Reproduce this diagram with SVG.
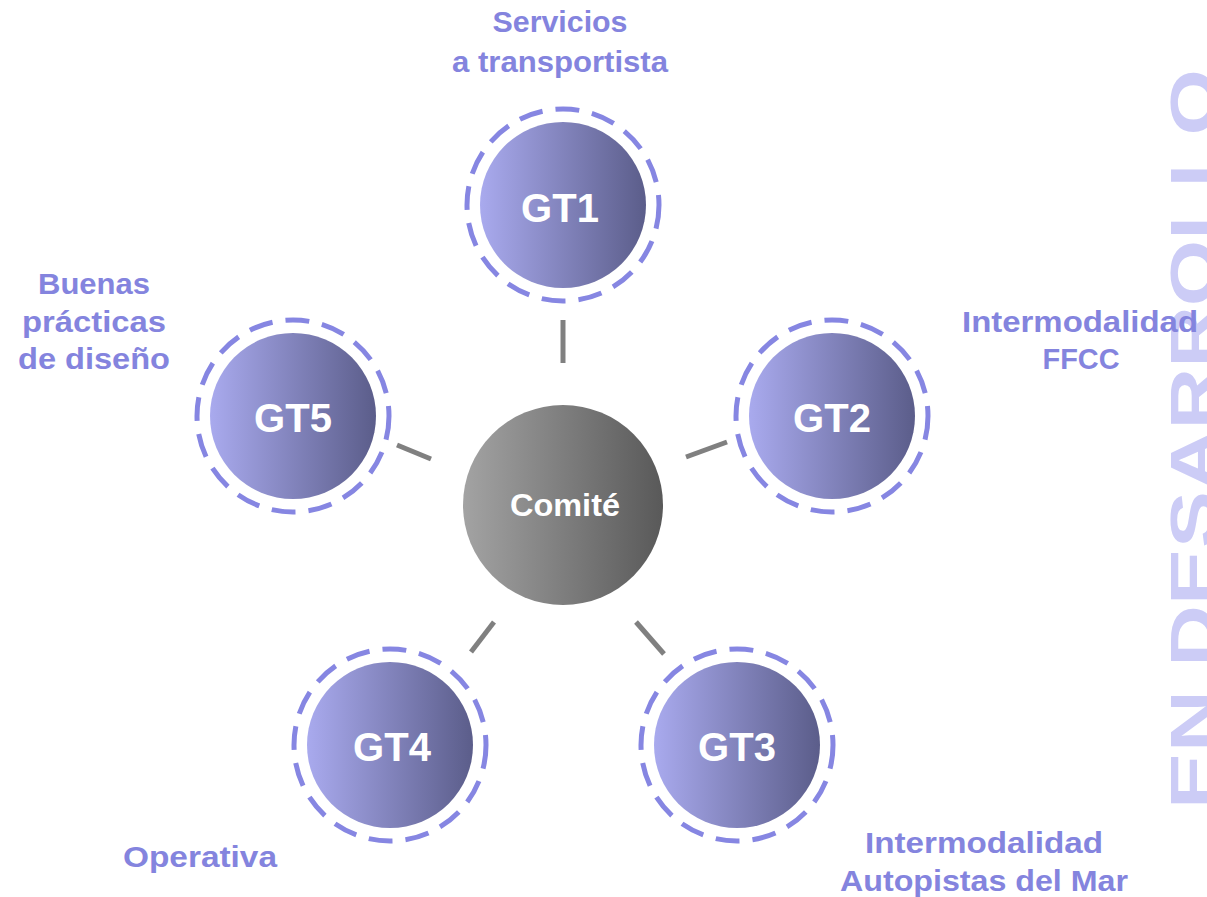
<svg xmlns="http://www.w3.org/2000/svg" width="1207" height="897" viewBox="0 0 1207 897">
<defs>
<linearGradient id="gp" x1="0" y1="0" x2="1" y2="0">
<stop offset="0" stop-color="#a9aaee"/>
<stop offset="1" stop-color="#5b5d8a"/>
</linearGradient>
<linearGradient id="gg" x1="0" y1="0" x2="1" y2="0">
<stop offset="0" stop-color="#a3a3a3"/>
<stop offset="1" stop-color="#595959"/>
</linearGradient>
</defs>
<style>
.ring{fill:none;stroke:#8686e2;stroke-width:5;stroke-dasharray:24 13}
.core{fill:url(#gp)}
.gt{font-family:"Liberation Sans",Arial,sans-serif;font-weight:bold;font-size:40px;fill:#ffffff;text-anchor:middle}
.lbl{font-family:"Liberation Sans",Arial,sans-serif;font-weight:bold;font-size:29px;fill:#8484de;text-anchor:middle}
.con{stroke:#808080;stroke-width:5;fill:none}
.wm{font-family:"Liberation Sans",Arial,sans-serif;font-weight:bold;font-size:64px;fill:#ccccf6;text-anchor:middle}
</style>
<text class="wm" transform="translate(1216,439) rotate(-90)" x="0" y="0" textLength="740" lengthAdjust="spacingAndGlyphs">EN DESARROLLO</text>
<g id="connectors">
<line class="con" x1="563" y1="320" x2="563" y2="363"/>
<line class="con" x1="686" y1="457" x2="727" y2="442"/>
<line class="con" x1="397" y1="445" x2="431" y2="459"/>
<line class="con" x1="471" y1="652" x2="494" y2="622"/>
<line class="con" x1="636" y1="622" x2="664" y2="654"/>
</g>
<g id="comite">
<circle cx="563" cy="505" r="100" fill="url(#gg)"/>
<text class="gt" x="565" y="516" style="font-size:31px" textLength="110" lengthAdjust="spacingAndGlyphs">Comité</text>
</g>
<g id="gt1">
<circle class="core" cx="563" cy="205" r="83"/>
<circle class="ring" cx="563" cy="205" r="96"/>
<text class="gt" x="560" y="222">GT1</text>
<text class="lbl" x="560" y="32" textLength="135" lengthAdjust="spacingAndGlyphs">Servicios</text>
<text class="lbl" x="560" y="72" textLength="216" lengthAdjust="spacingAndGlyphs">a transportista</text>
</g>
<g id="gt2">
<circle class="core" cx="832" cy="416" r="83"/>
<circle class="ring" cx="832" cy="416" r="96"/>
<text class="gt" x="832" y="432">GT2</text>
<text class="lbl" x="1080" y="332" textLength="236" lengthAdjust="spacingAndGlyphs">Intermodalidad</text>
<text class="lbl" x="1081" y="369" textLength="77" lengthAdjust="spacingAndGlyphs">FFCC</text>
</g>
<g id="gt3">
<circle class="core" cx="737" cy="745" r="83"/>
<circle class="ring" cx="737" cy="745" r="96"/>
<text class="gt" x="737" y="761">GT3</text>
<text class="lbl" x="984" y="853" textLength="238" lengthAdjust="spacingAndGlyphs">Intermodalidad</text>
<text class="lbl" x="984" y="891" textLength="288" lengthAdjust="spacingAndGlyphs">Autopistas del Mar</text>
</g>
<g id="gt4">
<circle class="core" cx="390" cy="745" r="83"/>
<circle class="ring" cx="390" cy="745" r="96"/>
<text class="gt" x="392" y="761">GT4</text>
<text class="lbl" x="200" y="867" textLength="154" lengthAdjust="spacingAndGlyphs">Operativa</text>
</g>
<g id="gt5">
<circle class="core" cx="293" cy="416" r="83"/>
<circle class="ring" cx="293" cy="416" r="96"/>
<text class="gt" x="293" y="432">GT5</text>
<text class="lbl" x="94" y="294" textLength="112" lengthAdjust="spacingAndGlyphs">Buenas</text>
<text class="lbl" x="94" y="332" textLength="144" lengthAdjust="spacingAndGlyphs">prácticas</text>
<text class="lbl" x="94" y="369" textLength="152" lengthAdjust="spacingAndGlyphs">de diseño</text>
</g>
</svg>
